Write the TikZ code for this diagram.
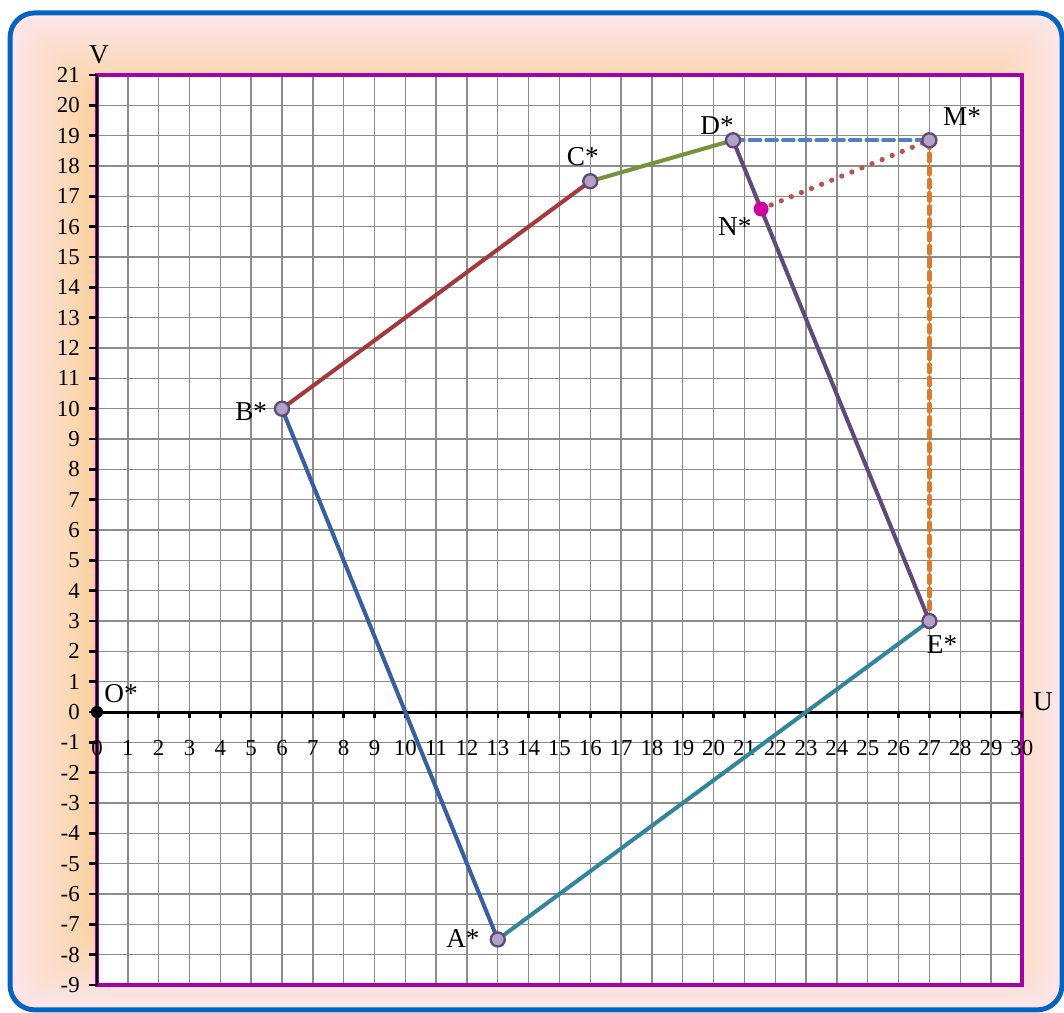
\documentclass[tikz,border=0pt]{standalone}
\usepackage{fontspec}
\setmainfont{Liberation Serif}
\usetikzlibrary{calc}
\definecolor{framebl}{HTML}{0563C1}
\definecolor{bgpink}{RGB}{253,230,236}
\definecolor{bgorange}{RGB}{250,210,160}
\definecolor{plotpurple}{RGB}{168,0,168}
\definecolor{gridgray}{RGB}{140,140,140}
\definecolor{lineBC}{RGB}{165,56,58}
\definecolor{lineCD}{HTML}{77933C}
\definecolor{lineDE}{HTML}{604A7B}
\definecolor{lineEA}{HTML}{31859C}
\definecolor{lineAB}{RGB}{55,96,160}
\definecolor{lineDM}{HTML}{4F81BD}
\definecolor{lineME}{RGB}{218,124,48}
\definecolor{lineNM}{HTML}{C0504D}
\definecolor{markfill}{HTML}{B3A2C7}
\definecolor{markdraw}{HTML}{5F497A}
\definecolor{magentaN}{RGB}{208,0,160}
\tikzset{
  edge/.style={line width=2.3pt},
  pt/.style={circle,draw=markdraw,fill=markfill,line width=1.3pt,inner sep=0pt,minimum size=8pt},
  lab/.style={font=\fontsize{15.5}{17}\selectfont},
  ticklab/.style={font=\fontsize{13}{15}\selectfont,inner sep=0pt}
}
\begin{document}
\begin{tikzpicture}[x=0.6167cm,y=0.6067cm]
\useasboundingbox (-3.146,-9.891) rectangle (31.366,23.475);
% background
\foreach \i [evaluate=\i as \p using int(\i*5)] in {0,...,20}
  \fill[bgorange!\p!bgpink,rounded corners=12pt] (-2.82+\i*0.13,-9.82+\i*0.132) rectangle (31.30-\i*0.13,23.05-\i*0.132);
\draw[framebl,line width=2.8pt,rounded corners=14pt] (-2.82,-9.82) rectangle (31.30,23.05);
% plot area
\fill[white] (0,-9) rectangle (30,21);
\draw[gridgray,line width=0.8pt,step=1] (0,-9) grid (30,21);
\draw[plotpurple,line width=2.3pt] (0,-9) rectangle (30,21);
\draw[black,line width=1.2pt] (0,-9) -- (0,21);
\draw[black,line width=1.7pt] (0,0) -- (30,0);
\foreach \y in {-9,...,21} {
  \draw[line width=1.4pt] (0,\y) -- (-0.25,\y);
  \node[ticklab,anchor=east] at (-0.55,\y) {\y};
}
\foreach \x in {0,...,30} {
  \draw[line width=1.4pt] (\x,0) -- (\x,-0.2);
  \node[ticklab] at (\x,-1.19) {\x};
}
\node[lab] (labV) at (0.06,21.66) {V};
\node[lab] (labU) at (30.68,0.33) {U};
% points
\coordinate (O) at (0,0);
\coordinate (A) at (13,-7.5);
\coordinate (B) at (6,10);
\coordinate (C) at (16,17.5);
\coordinate (D) at (20.63,18.85);
\coordinate (M) at (27,18.85);
\coordinate (E) at (27,3);
\coordinate (N) at ($(D)!(M)!(E)$);
% edges
\draw[edge,lineAB] (A) -- (B);
\draw[edge,lineBC] (B) -- (C);
\draw[edge,lineCD] (C) -- (D);
\draw[edge,lineDE] (D) -- (E);
\draw[edge,lineEA] (E) -- (A);
\draw[lineDM,line width=2.4pt,dash pattern=on 6pt off 3.5pt,line cap=round] (D) -- (M);
\draw[lineME,line width=2.4pt,dash pattern=on 4.5pt off 3pt,line cap=round] (M) -- (E);
\draw[lineNM,line width=3pt,dash pattern=on 0pt off 6.2pt,line cap=round] (N) -- (M);
% markers
\node[circle,fill=black,inner sep=0pt,minimum size=7pt] (pO) at (O) {};
\foreach \q in {A,B,C,D,M,E}
  \node[pt] (p\q) at (\q) {};
\node[circle,fill=magentaN,inner sep=0pt,minimum size=8.5pt] (pN) at (N) {};
% labels
\node[lab] (labO) at (0.78,0.59) {O*};
\node[lab] (labA) at (11.87,-7.48) {A*};
\node[lab] (labB) at (5.0,9.92) {B*};
\node[lab] (labC) at (15.76,18.3) {C*};
\node[lab] (labD) at (20.11,19.32) {D*};
\node[lab] (labM) at (28.06,19.62) {M*};
\node[lab] (labN) at (20.69,15.99) {N*};
\node[lab] (labE) at (27.41,2.21) {E*};
\end{tikzpicture}
\end{document}
